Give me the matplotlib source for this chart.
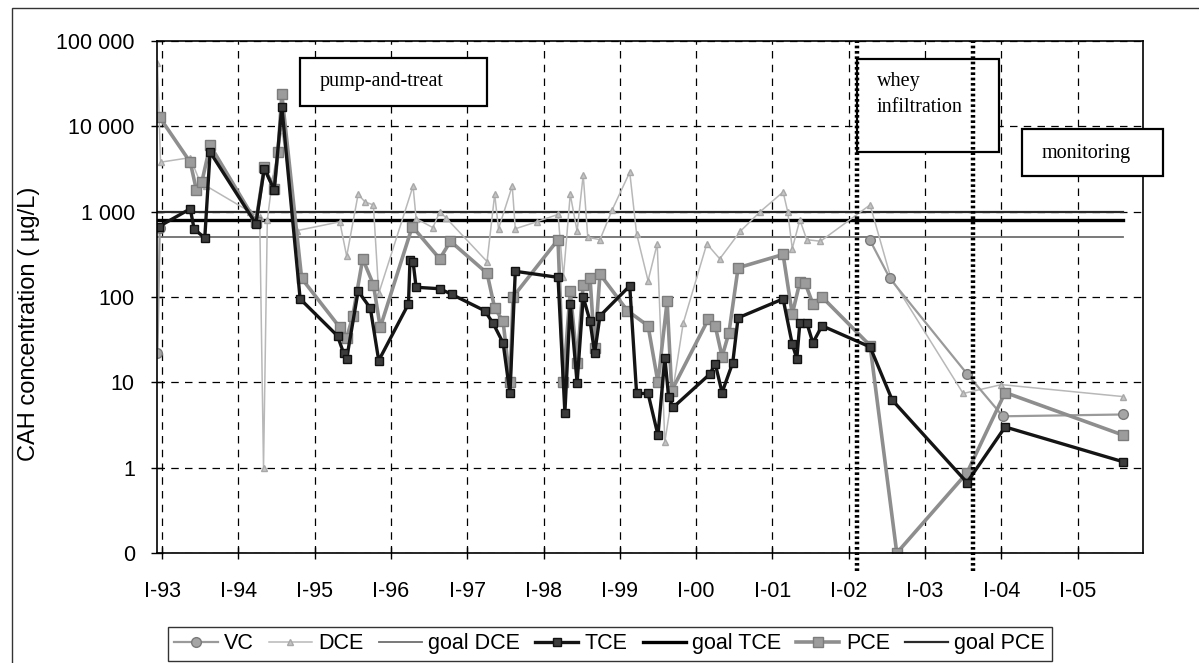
import numpy as np
import matplotlib
matplotlib.use("Agg")
import matplotlib.pyplot as plt
from matplotlib.patches import Rectangle

plt.rcParams['font.family'] = ['Liberation Sans', 'DejaVu Sans']

# === data (decimal years, ug/L; 0.1 is shown as "0") ===
vc_t = [1992.94, 1992.97, np.nan, 2002.28, 2002.54, 2003.55, 2004.02, 2005.60]
vc_v = [22, 650, np.nan, 460, 165, 12.6, 4.0, 4.2]

dce_t = [1992.94, 1992.98, 1993.37, 1993.50, 1993.58, 1994.15, 1994.28, 1994.33,
         1994.38, 1994.45, 1994.57, 1994.77, 1995.33, 1995.42, 1995.57, 1995.66,
         1995.77, 1995.84, 1996.29, 1996.33, 1996.55, 1996.64, 1996.72, 1997.26,
         1997.36, 1997.41, 1997.59, 1997.63, 1997.91, 1998.19, 1998.26, 1998.35,
         1998.44, 1998.52, 1998.58, 1998.74, 1998.90, 1999.13, 1999.22, 1999.37,
         1999.49, 1999.59, 1999.83, 2000.14, 2000.31, 2000.58, 2000.84, 2001.14,
         2001.20, 2001.26, 2001.36, 2001.45, 2001.63, 2002.28, 2002.55, 2003.50,
         2004.00, 2005.60]
dce_v = [55000, 3800, 4300, 2200, 2000, 1000, 870, 1.0,
         800, 2500, 9000, 600, 760, 300, 1600, 1300,
         1200, 110, 2000, 830, 650, 1000, 850, 260,
         1600, 630, 2000, 630, 760, 930, 170, 1600,
         590, 2700, 500, 470, 1050, 2900, 550, 155,
         420, 2.0, 49, 420, 280, 590, 1000, 1700,
         1000, 370, 800, 470, 450, 1200, 170, 7.4,
         9.4, 6.8]

tce_t = [1992.96, 1993.37, 1993.42, 1993.56, 1993.63, 1994.23, 1994.34, 1994.47,
         1994.57, 1994.81, 1995.30, 1995.38, 1995.42, 1995.57, 1995.73, 1995.84,
         1996.23, 1996.25, 1996.29, 1996.33, 1996.64, 1996.80, 1997.23, 1997.34,
         1997.47, 1997.56, 1997.63, 1998.19, 1998.28, 1998.35, 1998.44, 1998.52,
         1998.61, 1998.67, 1998.74, 1999.13, 1999.22, 1999.37, 1999.50, 1999.59,
         1999.64, 1999.70, 2000.18, 2000.25, 2000.34, 2000.48, 2000.55, 2001.14,
         2001.26, 2001.32, 2001.36, 2001.45, 2001.53, 2001.65, 2002.28, 2002.57,
         2003.55, 2004.05, 2005.60]
tce_v = [670, 1080, 630, 490, 5000, 720, 3200, 1800,
         17000, 95, 35, 22, 19, 117, 74, 18,
         83, 275, 260, 130, 125, 107, 69, 49,
         29, 7.4, 200, 170, 4.4, 83, 9.8, 100,
         52, 22, 60, 135, 7.4, 7.4, 2.4, 19.5,
         6.7, 5.1, 12.5, 16.6, 7.6, 17, 57, 95,
         28, 19, 50, 50, 29, 46, 26, 6.2,
         0.67, 3.0, 1.17]

pce_t = [1992.97, 1993.37, 1993.45, 1993.52, 1993.63, 1994.23, 1994.34, 1994.47,
         1994.52, 1994.57, 1994.83, 1995.33, 1995.42, 1995.50, 1995.63, 1995.77,
         1995.86, 1996.28, 1996.64, 1996.78, 1997.26, 1997.36, 1997.47, 1997.56,
         1997.60, 1998.19, 1998.26, 1998.35, 1998.44, 1998.52, 1998.61, 1998.67,
         1998.74, 1999.10, 1999.37, 1999.50, 1999.62, 1999.68, 2000.16, 2000.25,
         2000.34, 2000.43, 2000.55, 2001.14, 2001.26, 2001.36, 2001.43, 2001.53,
         2001.65, 2002.28, 2002.63, 2003.55, 2004.05, 2005.60]
pce_v = [12700, 3800, 1800, 2200, 6000, 760, 3300, 1850,
         5000, 24000, 165, 44, 33, 60, 280, 140,
         44, 670, 280, 450, 190, 74, 52, 10,
         100, 470, 10, 117, 17, 140, 165, 25,
         185, 69, 46, 10, 89, 8, 55, 46,
         20, 38, 220, 315, 63, 150, 145, 83,
         100, 27, 0.1, 0.87, 7.6, 2.4]

goal_span = [1992.94, 2005.60]
goal_dce = 500
goal_tce = 800
goal_pce = 1000

phase_dates = [2002.11, 2003.63]
year_ticks = list(range(1993, 2006))
year_labels = [f"I-{y % 100:02d}" for y in year_ticks]
y_ticks = [0.1, 1, 10, 100, 1000, 10000, 100000]
y_labels = ['0', '1', '10', '100', '1 000', '10 000', '100 000']

W, H = 1199, 663
fig = plt.figure(figsize=(W / 100, H / 100), dpi=100)
ax = fig.add_axes([157 / W, 1 - 553 / H, 986 / W, 512 / H])

# outer frame of the original figure (only left/top edges visible)
fig.patches.append(Rectangle((12 / W, -0.05), 1.1, 1 - 8 / H + 0.05,
                             transform=fig.transFigure, fill=False,
                             ec='#333333', lw=1.0))

ax.set_yscale('log')
ax.set_ylim(0.1, 1e5)
ax.set_xlim(1992.934, 2005.857)
ax.set_yticks(y_ticks)
ax.set_yticklabels(y_labels)
ax.yaxis.set_minor_locator(matplotlib.ticker.NullLocator())
ax.set_xticks(year_ticks)
ax.set_xticklabels(year_labels)
ax.tick_params(axis='x', direction='inout', length=8, width=1, pad=16, labelsize=15.5)
ax.tick_params(axis='y', direction='inout', length=8, width=1, pad=12, labelsize=15.5)
ax.grid(True, color='black', linestyle=(0, (6, 5)), linewidth=0.9)
ax.set_axisbelow(True)
for s in ax.spines.values():
    s.set_linewidth(1.2)

ax.set_ylabel('CAH concentration ( \u00b5g/L)', fontsize=17)
ax.yaxis.set_label_coords(-0.119, 0.447)

# goal lines
h_gdce, = ax.plot(goal_span, [goal_dce] * 2, color='#6e6e6e', lw=1.3, label='goal DCE')
h_gtce, = ax.plot(goal_span, [goal_tce] * 2, color='black', lw=2.4, label='goal TCE')
h_gpce, = ax.plot(goal_span, [goal_pce] * 2, color='#2a2a2a', lw=1.6, label='goal PCE')

# series
h_dce, = ax.plot(dce_t, dce_v, color='#b8b8b8', lw=1.1, marker='^', ms=5,
                 mfc='#c4c4c4', mec='#a8a8a8', label='DCE')
h_vc, = ax.plot(vc_t, vc_v, color='#9a9a9a', lw=1.6, marker='o', ms=7,
                mfc='#a5a5a5', mec='#7a7a7a', label='VC')
h_pce, = ax.plot(pce_t, pce_v, color='#8e8e8e', lw=2.6, marker='s', ms=7,
                 mfc='#9c9c9c', mec='#7c7c7c', label='PCE')
h_tce, = ax.plot(tce_t, tce_v, color='#141414', lw=2.4, marker='s', ms=6,
                 mfc='#3c3c3c', mec='#111111', label='TCE')

# phase boundaries (thick dotted, extending a little below the axis)
for d in phase_dates:
    ax.plot([d, d], [-0.035, 1.0], color='black', lw=3.2, linestyle=(0, (0.6, 0.6)),
            transform=ax.get_xaxis_transform(), clip_on=False, zorder=6)

# phase boxes (axes fractions)
boxes = [((0.145, 0.873), 0.190, 0.094),
         ((0.710, 0.783), 0.144, 0.182),
         ((0.877, 0.736), 0.143, 0.092)]
for (x0, y0), bw, bh in boxes:
    ax.add_patch(Rectangle((x0, y0), bw, bh, transform=ax.transAxes, fc='white',
                           ec='black', lw=1.6, zorder=5, clip_on=False))

serif = ['Liberation Serif', 'DejaVu Serif']
ax.text(0.165, 0.920, 'pump-and-treat', transform=ax.transAxes, fontsize=14.5,
        family=serif, va='center', zorder=7)
ax.text(0.730, 0.920, 'whey', transform=ax.transAxes, fontsize=14.5,
        family=serif, va='center', zorder=7)
ax.text(0.730, 0.871, 'infiltration', transform=ax.transAxes, fontsize=14.5,
        family=serif, va='center', zorder=7)
ax.text(0.8976, 0.781, 'monitoring', transform=ax.transAxes, fontsize=14.5,
        family=serif, va='center', zorder=7, clip_on=False)

handles = [h_vc, h_dce, h_gdce, h_tce, h_gtce, h_pce, h_gpce]
leg = fig.legend(handles=handles, labels=[h.get_label() for h in handles],
                 loc='upper left', bbox_to_anchor=(168 / W, 1 - 627 / H),
                 ncol=7, fontsize=15.5, frameon=True, fancybox=False,
                 edgecolor='black', handlelength=2.0, handletextpad=0.3,
                 columnspacing=0.7, borderpad=0.3, borderaxespad=0)
leg.get_frame().set_linewidth(1.0)

fig.savefig('out.png', dpi=100)
